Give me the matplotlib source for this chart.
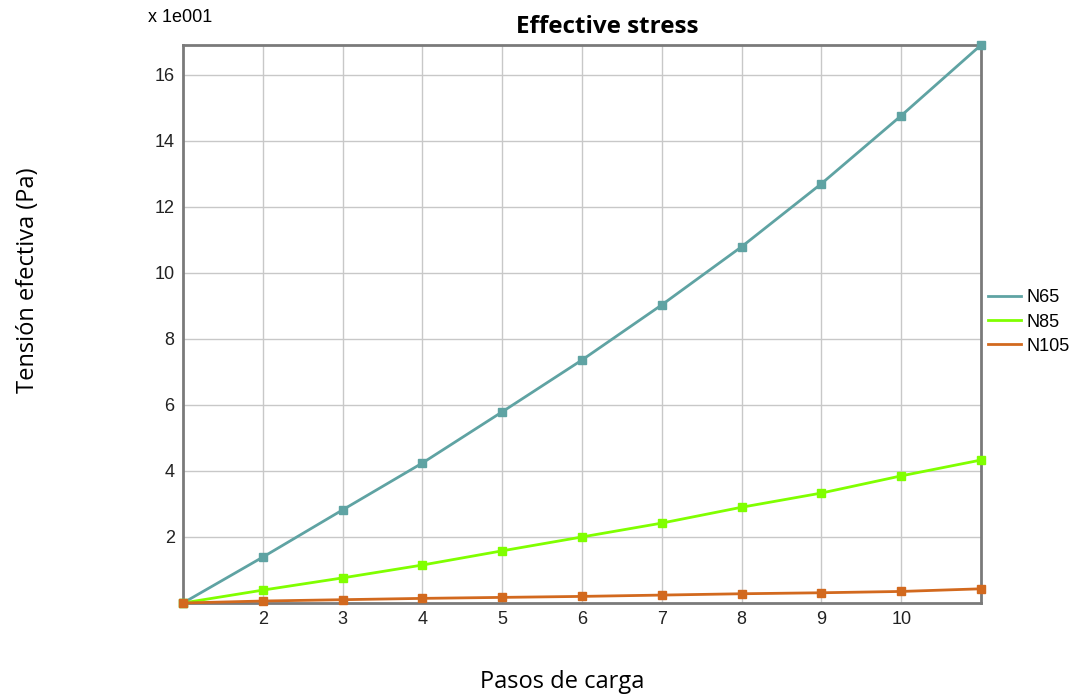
import matplotlib
matplotlib.use("Agg")
import matplotlib.pyplot as plt

steps = [1, 2, 3, 4, 5, 6, 7, 8, 9, 10, 11]
n65 = [0, 1.39, 2.82, 4.24, 5.79, 7.36, 9.03, 10.79, 12.7, 14.76, 16.9]
n85 = [0, 0.39, 0.76, 1.15, 1.58, 2.0, 2.42, 2.9, 3.33, 3.85, 4.33]
n105 = [0, 0.06, 0.10, 0.14, 0.17, 0.20, 0.24, 0.28, 0.31, 0.35, 0.43]
xticks = [2, 3, 4, 5, 6, 7, 8, 9, 10]
yticks = [2, 4, 6, 8, 10, 12, 14, 16]

fig = plt.figure(figsize=(10.8, 6.96), dpi=100)
ax = fig.add_axes([183/1080, 1-603/696, (981-183)/1080, (603-45)/696])

series = [("N65", n65, "#5fa3a3"), ("N85", n85, "#80ff00"), ("N105", n105, "#d2691e")]
for name, vals, col in series:
    ax.plot(steps, vals, color=col, lw=2, marker="s", ms=6, label=name, clip_on=False, zorder=3)

ax.set_xlim(1, 11)
ax.set_ylim(0, 16.9)
ax.set_xticks(xticks)
ax.set_yticks(yticks)
ax.grid(True, color="#c8c8c8", lw=1)
ax.set_axisbelow(True)
ax.tick_params(length=0, labelsize=13, pad=6, colors="#222222")
for lab in ax.get_xticklabels() + ax.get_yticklabels():
    lab.set_family("Liberation Sans")
for s in ax.spines.values():
    s.set_color("#7a7a7a")
    s.set_linewidth(2)

fig.text(607/1080, 1-27/696, "Effective stress", fontsize=17.5, fontweight="bold", family="Open Sans",
         va="center", ha="center")
fig.text(148/1080, 1-18/696, "x 1e001", fontsize=13, family="Liberation Sans", va="center", ha="left")
fig.text(28/1080, 1-280/696, "Tensión efectiva (Pa)", rotation=90, fontsize=17, family="Open Sans", va="center", ha="center")
fig.text(562/1080, 1-682/696, "Pasos de carga", fontsize=17, family="Open Sans", va="center", ha="center")

leg = ax.legend(loc="center left", bbox_to_anchor=(1.0, 1 - (322-45)/558), frameon=False,
                handlelength=1.8, handletextpad=0.3, labelspacing=0.4, borderaxespad=0.0,
                prop={"family": "Liberation Sans", "size": 13})
for h in leg.legend_handles:
    h.set_marker("")

fig.savefig("out.png", dpi=100)
